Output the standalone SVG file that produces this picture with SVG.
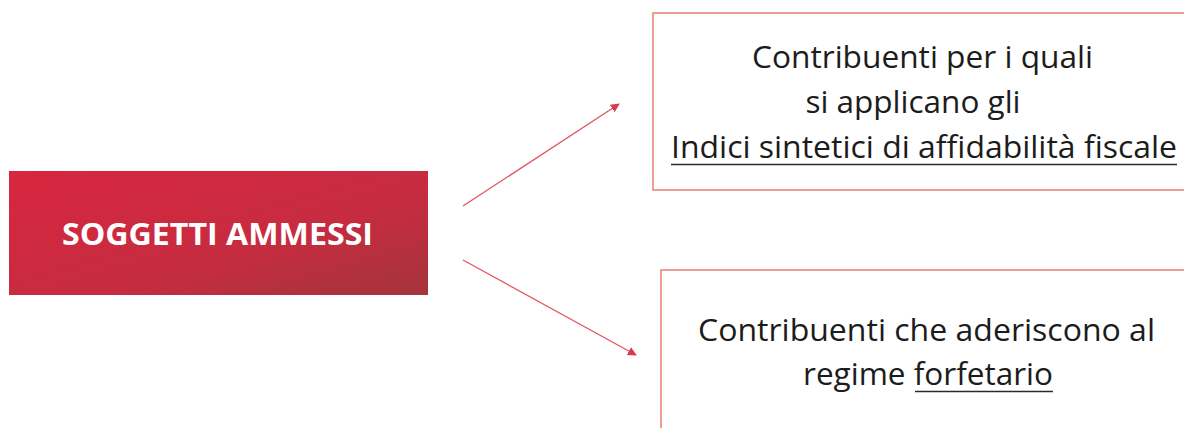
<svg xmlns="http://www.w3.org/2000/svg" width="1184" height="428" viewBox="0 0 1184 428">
<defs>
<linearGradient id="redGrad" x1="0" y1="0" x2="1" y2="1">
<stop offset="0" stop-color="#d8263f"/>
<stop offset="0.6" stop-color="#c62c40"/>
<stop offset="1" stop-color="#a4343d"/>
</linearGradient>
<marker id="arrow" viewBox="0 0 10 10" refX="9" refY="5" markerWidth="9" markerHeight="9" markerUnits="userSpaceOnUse" orient="auto">
<path d="M0,0 L10,5 L0,10 z" fill="#d83a4c"/>
</marker>
<style>
.box{fill:#ffffff;stroke:#e8877a;stroke-width:1.6}
.txt{font-family:"Open Sans","Liberation Sans",sans-serif;font-size:31.5px;fill:#1c1c1c;text-anchor:middle}
.title{font-family:"Open Sans","Liberation Sans",sans-serif;font-size:31px;font-weight:bold;fill:#ffffff;text-anchor:middle}
.ul{stroke:#2a2a2a;stroke-width:1.6}
.conn{stroke:#e05a66;stroke-width:1.4;fill:none}
</style>
</defs>
<rect width="1184" height="428" fill="#ffffff"/>
<g id="node-soggetti">
<rect x="9" y="171" width="419" height="124" fill="url(#redGrad)"/>
<text class="title" x="217.5" y="245" textLength="311" lengthAdjust="spacingAndGlyphs">SOGGETTI AMMESSI</text>
</g>
<g id="node-isa">
<rect class="box" x="653" y="13" width="560" height="177"/>
<text class="txt" x="922.5" y="68" textLength="341" lengthAdjust="spacingAndGlyphs">Contribuenti per i quali</text>
<text class="txt" x="913" y="113">si applicano gli</text>
<text class="txt" x="924" y="158" textLength="506" lengthAdjust="spacingAndGlyphs">Indici sintetici di affidabilità fiscale</text>
<line class="ul" x1="671" y1="164.5" x2="1177" y2="164.5"/>
</g>
<g id="node-forfetario">
<rect class="box" x="661" y="270" width="560" height="200"/>
<text class="txt" x="926.5" y="341" textLength="457" lengthAdjust="spacingAndGlyphs">Contribuenti che aderiscono al</text>
<text class="txt" x="928" y="385" textLength="250" lengthAdjust="spacingAndGlyphs">regime forfetario</text>
<line class="ul" x1="915" y1="391.5" x2="1053" y2="391.5"/>
</g>
<g id="connectors">
<line class="conn" x1="463" y1="206" x2="619" y2="104" marker-end="url(#arrow)"/>
<line class="conn" x1="463" y1="260" x2="636" y2="355" marker-end="url(#arrow)"/>
</g>
</svg>
